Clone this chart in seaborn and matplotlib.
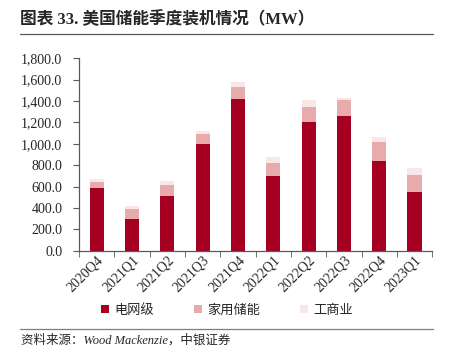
import matplotlib
matplotlib.use("Agg")
import matplotlib.pyplot as plt
import matplotlib.ticker as mticker
from matplotlib.lines import Line2D
from matplotlib.patches import Patch
import seaborn as sns
import pandas as pd
import numpy as np

# quarterly US storage installs (MW)
quarters = ["2020Q4", "2021Q1", "2021Q2", "2021Q3", "2021Q4",
            "2022Q1", "2022Q2", "2022Q3", "2022Q4", "2023Q1"]
grid = [590, 297, 512, 996, 1423, 696, 1202, 1258, 842, 552]
home = [56, 90, 106, 99, 112, 122, 146, 150, 178, 159]
cni = [25, 34, 34, 25, 44, 59, 63, 24, 44, 66]

series_names = ["电网级", "家用储能", "工商业"]
colors = ["#A50021", "#E8ABAB", "#FAE6E6"]

sns.set_style("white")
serif = ["Liberation Serif", "Noto Sans CJK SC"]
plt.rcParams["font.family"] = serif

df = pd.DataFrame({"quarter": quarters, "grid": grid, "home": home, "cni": cni})
df["lvl1"] = df["grid"]
df["lvl2"] = df["grid"] + df["home"]
df["lvl3"] = df["lvl2"] + df["cni"]

fig = plt.figure(figsize=(4.54, 3.62), dpi=100)
ax = fig.add_axes([0.174, 0.3075, 0.778, 0.5315])

# stacked bars drawn as overlapping cumulative totals
for col, c in zip(["lvl3", "lvl2", "lvl1"], colors[::-1]):
    sns.barplot(data=df, x="quarter", y=col, color=c, width=0.4,
                saturation=1, ax=ax, edgecolor="none")

ax.set_xlim(-0.5, len(quarters) - 0.5)
ax.set_ylim(0, 1800)
ax.set_yticks(np.arange(0, 1801, 200))
ax.yaxis.set_major_formatter(mticker.FuncFormatter(lambda v, p: f"{v:,.1f}"))
ax.set_xlabel("")
ax.set_ylabel("")

for s in ["top", "right"]:
    ax.spines[s].set_visible(False)
for s in ["left", "bottom"]:
    ax.spines[s].set_color("#595959")
    ax.spines[s].set_linewidth(0.9)

ax.set_xticks(np.arange(-0.5, len(quarters), 1), minor=True)
ax.tick_params(axis="x", which="major", length=0, labelsize=10, pad=2)
ax.tick_params(axis="x", which="minor", length=4, color="#595959", direction="out")
ax.tick_params(axis="y", length=4, color="#595959", direction="out", labelsize=10, pad=8)
ax.tick_params(axis="both", which="both", bottom=True, left=True)
for lbl in ax.get_xticklabels():
    lbl.set_rotation(45)
    lbl.set_ha("right")
    lbl.set_rotation_mode("anchor")
    lbl.set_fontfamily(serif)

handles = [Patch(facecolor=c, edgecolor="none") for c in colors]
fig.legend(handles, series_names, loc="center", bbox_to_anchor=(0.5, 0.143),
           ncol=3, frameon=False, handlelength=0.6, handleheight=0.6,
           handletextpad=0.4, columnspacing=3.0,
           prop={"family": ["Noto Sans CJK SC"], "size": 9.5})

fig.text(0.045, 0.945, "图表 33. 美国储能季度装机情况（MW）", ha="left", va="center",
         fontsize=12, fontweight="bold", family=serif)
fig.add_artist(Line2D([0.044, 0.954], [0.906, 0.906], color="#595959", lw=0.9))
fig.add_artist(Line2D([0.044, 0.954], [0.091, 0.091], color="#7f7f7f", lw=0.9))
fig.text(0.047, 0.06, "资料来源：Wood Mackenzie，中银证券", ha="left", va="center",
         fontsize=9, style="italic", family=serif)

fig.savefig("out.png", dpi=100)
